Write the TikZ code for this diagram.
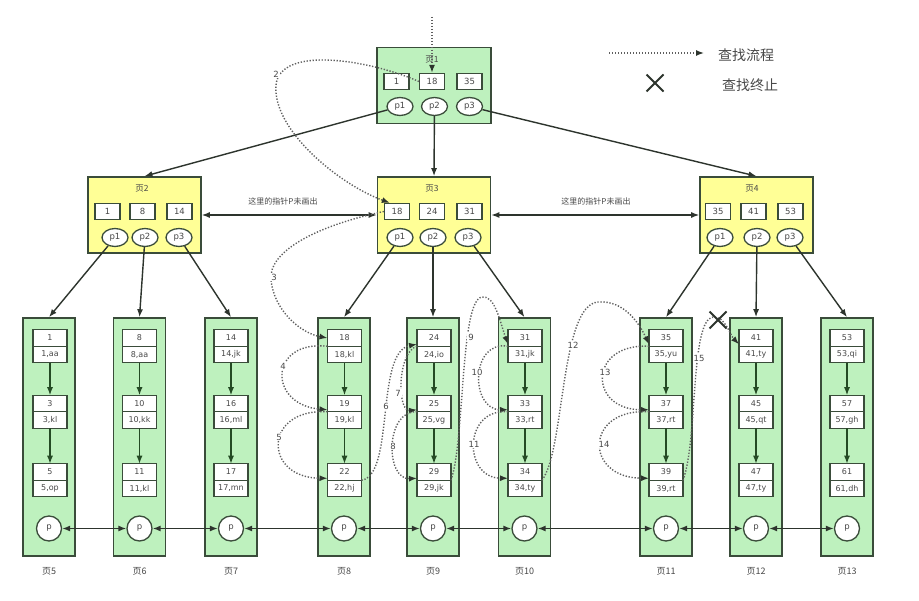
\documentclass[tikz,border=0pt]{standalone}
\usepackage{fontspec}
\setmainfont{DejaVu Sans}
\newfontfamily\cjk{Noto Sans CJK SC}
\usepackage{tikz}
\usetikzlibrary{positioning,shapes.geometric,shapes.misc,arrows.meta}

\definecolor{pagegreen}{RGB}{190,241,190}
\definecolor{pageyellow}{RGB}{255,255,150}
\definecolor{edgedark}{RGB}{58,76,58}
\definecolor{linkdark}{RGB}{45,52,45}
\definecolor{leafgreen}{RGB}{36,74,36}
\definecolor{searchgray}{RGB}{95,95,95}
\definecolor{txtgray}{RGB}{72,72,72}

\begin{document}
\begin{tikzpicture}[x=1pt, y=-1pt,
	pagebox/.style={draw=edgedark, line width=1.6pt, inner sep=0pt},
	rootpage/.style={pagebox, fill=pagegreen, minimum width=114, minimum height=76},
	midpage/.style={pagebox, fill=pageyellow, minimum width=113, minimum height=76},
	leafpage/.style={pagebox, fill=pagegreen, minimum width=52, minimum height=238},
	pgtitle/.style={text=txtgray, font=\cjk\fontsize{8.5}{10}\selectfont},
	keybox/.style={draw=edgedark, fill=white, line width=1.3pt, minimum width=25, minimum height=16, inner sep=0pt, text=txtgray, font=\fontsize{8.5}{10}\selectfont},
	ptr/.style={ellipse, draw=edgedark, fill=white, line width=1.3pt, minimum width=26, minimum height=18, inner sep=0pt, text=txtgray, font=\fontsize{8.5}{10}\selectfont},
	ekey/.style={draw=edgedark, fill=white, line width=1.3pt, minimum width=34, minimum height=16.5, inner sep=0pt, outer sep=0pt, text=txtgray, font=\fontsize{8}{9}\selectfont},
	eval/.style={ekey},
	leafp/.style={circle, draw=edgedark, fill=white, line width=1.3pt, minimum size=25, inner sep=0pt, text=txtgray, font=\fontsize{8.5}{10}\selectfont},
	pglabel/.style={text=txtgray, font=\cjk\fontsize{9}{10}\selectfont},
	note/.style={text=txtgray, font=\cjk\fontsize{8}{10}\selectfont},
	legend/.style={text=txtgray, font=\cjk\fontsize{14}{16}\selectfont},
	link/.style={color=linkdark, line width=1.4pt, -{Latex[length=8pt,width=6pt]}},
	leaflink/.style={color=leafgreen, line width=1.4pt, -{Latex[length=8pt,width=6pt]}},
	plink/.style={color=linkdark, line width=1.4pt, {Latex[length=8pt,width=6pt]}-{Latex[length=8pt,width=6pt]}},
	search/.style={color=searchgray, line width=1.4pt, dash pattern=on 1.3pt off 1.7pt, -{Latex[length=8pt,width=6pt,color=linkdark]}},
	stepno/.style={fill=white, inner sep=1pt, text=txtgray, font=\fontsize{8.5}{10}\selectfont},
	stopmark/.style={cross out, draw=linkdark, line width=2pt, minimum size=15, inner sep=0pt}]

	\useasboundingbox[fill=white] (0, 0) rectangle (919, 601);

	\node[rootpage] (pg1) at (434, 85.5) {};
	\node[pgtitle] (t1) at (432, 60) {页1};
	\node[keybox] (k1a) at (396.5, 81.5) {1};
	\node[keybox] (k1b) at (432, 81.5) {18};
	\node[keybox] (k1c) at (469.5, 81.5) {35};
	\node[ptr] (p1a) at (400, 106.5) {p1};
	\node[ptr] (p1b) at (434.5, 106.5) {p2};
	\node[ptr] (p1c) at (469.5, 106.5) {p3};

	\node[midpage] (pg2) at (144.5, 215) {};
	\node[pgtitle] (t2) at (142, 189) {页2};
	\node[keybox] (k2a) at (107.5, 211.5) {1};
	\node[keybox] (k2b) at (142.5, 211.5) {8};
	\node[keybox] (k2c) at (179.5, 211.5) {14};
	\node[ptr] (p2a) at (115, 237.5) {p1};
	\node[ptr] (p2b) at (145, 237.5) {p2};
	\node[ptr] (p2c) at (179, 237.5) {p3};

	\node[midpage] (pg3) at (434, 215) {};
	\node[pgtitle] (t3) at (432, 189) {页3};
	\node[keybox] (k3a) at (397, 211.5) {18};
	\node[keybox] (k3b) at (432, 211.5) {24};
	\node[keybox] (k3c) at (469.5, 211.5) {31};
	\node[ptr] (p3a) at (400, 237.5) {p1};
	\node[ptr] (p3b) at (433, 237.5) {p2};
	\node[ptr] (p3c) at (468, 237.5) {p3};

	\node[midpage] (pg4) at (756.5, 215) {};
	\node[pgtitle] (t4) at (752, 189) {页4};
	\node[keybox] (k4a) at (718, 211.5) {35};
	\node[keybox] (k4b) at (753.5, 211.5) {41};
	\node[keybox] (k4c) at (790.5, 211.5) {53};
	\node[ptr] (p4a) at (720, 237.5) {p1};
	\node[ptr] (p4b) at (757, 237.5) {p2};
	\node[ptr] (p4c) at (790, 237.5) {p3};

	\node[note] (m23) at (283, 201) {这里的指针P未画出};
	\node[note] (m34) at (596, 201) {这里的指针P未画出};

	\node[leafpage] (pg5) at (49, 437) {};
	\node[ekey] (n1) at (50, 338) {1};
	\node[eval, below=0pt of n1] (v1) {1,aa};
	\node[ekey] (n3) at (50, 403.5) {3};
	\node[eval, below=0pt of n3] (v3) {3,kl};
	\node[ekey] (n5) at (50, 472) {5};
	\node[eval, below=0pt of n5] (v5) {5,op};
	\node[leafp] (lp5) at (49, 528.5) {p};
	\node[pglabel] (t5) at (49, 571) {页5};

	\node[leafpage] (pg6) at (139.5, 437) {};
	\node[ekey] (n8) at (139.5, 338) {8};
	\node[eval, below=0pt of n8] (v8) {8,aa};
	\node[ekey] (n10) at (139.5, 403.5) {10};
	\node[eval, below=0pt of n10] (v10) {10,kk};
	\node[ekey] (n11) at (139.5, 472) {11};
	\node[eval, below=0pt of n11] (v11) {11,kl};
	\node[leafp] (lp6) at (139.5, 528.5) {p};
	\node[pglabel] (t6) at (139.5, 571) {页6};

	\node[leafpage] (pg7) at (231, 437) {};
	\node[ekey] (n14) at (231, 338) {14};
	\node[eval, below=0pt of n14] (v14) {14,jk};
	\node[ekey] (n16) at (231, 403.5) {16};
	\node[eval, below=0pt of n16] (v16) {16,ml};
	\node[ekey] (n17) at (231, 472) {17};
	\node[eval, below=0pt of n17] (v17) {17,mn};
	\node[leafp] (lp7) at (231, 528.5) {p};
	\node[pglabel] (t7) at (231, 571) {页7};

	\node[leafpage] (pg8) at (344, 437) {};
	\node[ekey] (n18) at (344.5, 338) {18};
	\node[eval, below=0pt of n18] (v18) {18,kl};
	\node[ekey] (n19) at (344.5, 403.5) {19};
	\node[eval, below=0pt of n19] (v19) {19,kl};
	\node[ekey] (n22) at (344.5, 472) {22};
	\node[eval, below=0pt of n22] (v22) {22,hj};
	\node[leafp] (lp8) at (344, 528.5) {p};
	\node[pglabel] (t8) at (344, 571) {页8};

	\node[leafpage] (pg9) at (433, 437) {};
	\node[ekey] (n24) at (434, 338) {24};
	\node[eval, below=0pt of n24] (v24) {24,io};
	\node[ekey] (n25) at (434, 403.5) {25};
	\node[eval, below=0pt of n25] (v25) {25,vg};
	\node[ekey] (n29) at (434, 472) {29};
	\node[eval, below=0pt of n29] (v29) {29,jk};
	\node[leafp] (lp9) at (433, 528.5) {p};
	\node[pglabel] (t9) at (433, 571) {页9};

	\node[leafpage] (pg10) at (524.5, 437) {};
	\node[ekey] (n31) at (525, 338) {31};
	\node[eval, below=0pt of n31] (v31) {31,jk};
	\node[ekey] (n33) at (525, 403.5) {33};
	\node[eval, below=0pt of n33] (v33) {33,rt};
	\node[ekey] (n34) at (525, 472) {34};
	\node[eval, below=0pt of n34] (v34) {34,ty};
	\node[leafp] (lp10) at (524.5, 528.5) {p};
	\node[pglabel] (t10) at (524.5, 571) {页10};

	\node[leafpage] (pg11) at (666, 437) {};
	\node[ekey] (n35) at (666, 338) {35};
	\node[eval, below=0pt of n35] (v35) {35,yu};
	\node[ekey] (n37) at (666, 403.5) {37};
	\node[eval, below=0pt of n37] (v37) {37,rt};
	\node[ekey] (n39) at (666, 472) {39};
	\node[eval, below=0pt of n39] (v39) {39,rt};
	\node[leafp] (lp11) at (666, 528.5) {p};
	\node[pglabel] (t11) at (666, 571) {页11};

	\node[leafpage] (pg12) at (756, 437) {};
	\node[ekey] (n41) at (756, 338) {41};
	\node[eval, below=0pt of n41] (v41) {41,ty};
	\node[ekey] (n45) at (756, 403.5) {45};
	\node[eval, below=0pt of n45] (v45) {45,qt};
	\node[ekey] (n47) at (756, 472) {47};
	\node[eval, below=0pt of n47] (v47) {47,ty};
	\node[leafp] (lp12) at (756, 528.5) {p};
	\node[pglabel] (t12) at (756, 571) {页12};

	\node[leafpage] (pg13) at (847, 437) {};
	\node[ekey] (n53) at (847, 338) {53};
	\node[eval, below=0pt of n53] (v53) {53,qi};
	\node[ekey] (n57) at (847, 403.5) {57};
	\node[eval, below=0pt of n57] (v57) {57,gh};
	\node[ekey] (n61) at (847, 472) {61};
	\node[eval, below=0pt of n61] (v61) {61,dh};
	\node[leafp] (lp13) at (847, 528.5) {p};
	\node[pglabel] (t13) at (847, 571) {页13};

	\path[link] (p1a) edge (pg2.north);
	\path[link] (p1b) edge (pg3.north);
	\path[link] (p1c) edge (pg4.north);
	\path[link] (p2a) edge (pg5.north);
	\path[link] (p2b) edge (pg6.north);
	\path[link] (p2c) edge (pg7.north);
	\path[link] (p3a) edge (pg8.north);
	\path[link] (p3b) edge (pg9.north);
	\path[link] (p3c) edge (pg10.north);
	\path[link] (p4a) edge (pg11.north);
	\path[link] (p4b) edge (pg12.north);
	\path[link] (p4c) edge (pg13.north);

	\path[plink] (pg2) edge (pg3);
	\path[plink] (pg3) edge (pg4);

	\path[leaflink] (v1) edge (n3);
	\path[leaflink] (v3) edge (n5);
	\path[leaflink] (v8) edge (n10);
	\path[leaflink] (v10) edge (n11);
	\path[leaflink] (v14) edge (n16);
	\path[leaflink] (v16) edge (n17);
	\path[leaflink] (v18) edge (n19);
	\path[leaflink] (v19) edge (n22);
	\path[leaflink] (v24) edge (n25);
	\path[leaflink] (v25) edge (n29);
	\path[leaflink] (v31) edge (n33);
	\path[leaflink] (v33) edge (n34);
	\path[leaflink] (v35) edge (n37);
	\path[leaflink] (v37) edge (n39);
	\path[leaflink] (v41) edge (n45);
	\path[leaflink] (v45) edge (n47);
	\path[leaflink] (v53) edge (n57);
	\path[leaflink] (v57) edge (n61);

	\path[plink] (lp5) edge (lp6);
	\path[plink] (lp6) edge (lp7);
	\path[plink] (lp7) edge (lp8);
	\path[plink] (lp8) edge (lp9);
	\path[plink] (lp9) edge (lp10);
	\path[plink] (lp10) edge (lp11);
	\path[plink] (lp11) edge (lp12);
	\path[plink] (lp12) edge (lp13);

	\coordinate (in) at (432, 17);
	\path[search] (in) edge (k1b);
	\draw[search] (k1b.west) .. controls (370, 60) and (280, 45) .. (276, 85) .. controls (272, 130) and (340, 185) .. ([xshift=6pt]k3a.north west);
	\draw[search] (k3a.west) .. controls (320, 225) and (268, 250) .. (271, 280) .. controls (274, 310) and (300, 333) .. (n18.west);
	\draw[search] (n18.south west) .. controls (268, 340) and (268, 405) .. ([yshift=2pt]n19.south west);
	\draw[search] (n19.south west) .. controls (263, 408) and (263, 478) .. ([yshift=2pt]n22.south west);
	\draw[search] (n22.south east) .. controls (395, 475) and (375, 352) .. ([yshift=2pt]n24.south west);
	\draw[search] (n24.south west) .. controls (397, 352) and (397, 412) .. ([yshift=2pt]n25.south west);
	\draw[search] (n25.south west) .. controls (385, 410) and (385, 480) .. ([yshift=2pt]n29.south west);
	\draw[search] (n29.south east) .. controls (465, 440) and (460, 300) .. (482, 297) .. controls (495, 295) and (500, 322) .. ([yshift=2pt]n31.south west);
	\draw[search] (n31.south west) .. controls (470, 340) and (470, 410) .. ([yshift=2pt]n33.south west);
	\draw[search] (n33.south west) .. controls (463, 408) and (463, 478) .. ([yshift=2pt]n34.south west);
	\draw[search] (n34.south east) .. controls (565, 450) and (560, 305) .. (598, 302) .. controls (625, 300) and (640, 325) .. ([yshift=2pt]n35.south west);
	\draw[search] (n35.south west) .. controls (588, 343) and (588, 410) .. ([yshift=2pt]n37.south west);
	\draw[search] (n37.south west) .. controls (584, 408) and (584, 478) .. ([yshift=2pt]n39.south west);
	\draw[search] (n39.south east) .. controls (698, 440) and (690, 320) .. (713, 317) .. controls (725, 316) and (730, 335) .. ([yshift=2pt]n41.south west);

	\node[stepno] (s2) at (276, 74) {2};
	\node[stepno] (s3) at (274, 277) {3};
	\node[stepno] (s4) at (283, 366) {4};
	\node[stepno] (s5) at (279, 437) {5};
	\node[stepno] (s6) at (386, 406) {6};
	\node[stepno] (s7) at (398, 393) {7};
	\node[stepno] (s8) at (393, 446) {8};
	\node[stepno] (s9) at (471, 337) {9};
	\node[stepno] (s10) at (477, 372) {10};
	\node[stepno] (s11) at (474, 444) {11};
	\node[stepno] (s12) at (573, 345) {12};
	\node[stepno] (s13) at (605, 372) {13};
	\node[stepno] (s14) at (604, 444) {14};
	\node[stepno] (s15) at (699, 358) {15};

	\node[stopmark] (x1) at (718, 320) {};

	\coordinate (lg1) at (609, 53);
	\coordinate (lg2) at (704, 53);
	\path[search] (lg1) edge (lg2);
	\node[legend] (lt1) at (746, 55) {查找流程};
	\node[stopmark] (x2) at (655, 83) {};
	\node[legend] (lt2) at (750, 85) {查找终止};

\end{tikzpicture}
\end{document}
